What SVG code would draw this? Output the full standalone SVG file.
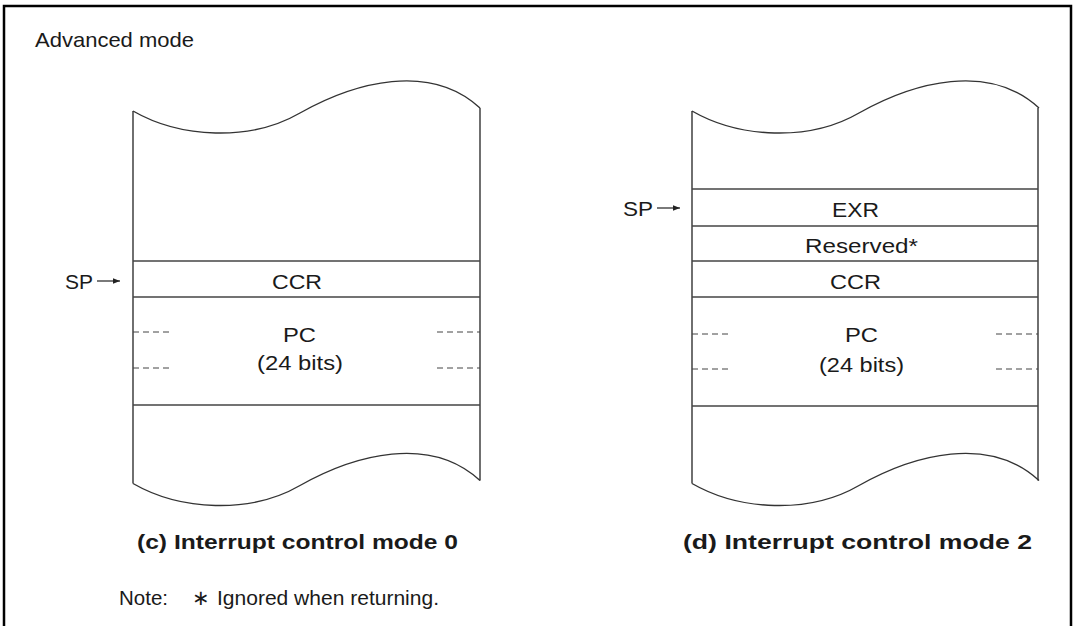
<svg xmlns="http://www.w3.org/2000/svg" width="1074" height="626" viewBox="0 0 1074 626">
<style>
text{font-family:"Liberation Sans",Arial,sans-serif;fill:#1a1a1a;font-size:21px}
.c{text-anchor:middle}
.b{font-weight:bold}
.w{fill:none;stroke:#333;stroke-width:1.4}
.h{stroke:#444;stroke-width:1.3}
.d{stroke:#444;stroke-width:1;stroke-dasharray:6 4}
.a{stroke:#222;stroke-width:1.2}
</style>
<defs>
<marker id="ah" viewBox="0 0 10 10" refX="10" refY="5" markerWidth="7" markerHeight="7" markerUnits="userSpaceOnUse" orient="auto"><path d="M0,1 L10,5 L0,9 z" fill="#222"/></marker>
<path id="wave" d="M133,111 C180,138 250,142 300,113 C355,82 430,62 480,108"/>
</defs>
<rect width="1074" height="626" fill="#fff"/>
<path d="M4,626 V6 H1071 V626" fill="none" stroke="#000" stroke-width="2.5"/>
<text x="35" y="47" textLength="159" lengthAdjust="spacingAndGlyphs">Advanced mode</text>

<g id="stack-c">
<use href="#wave" class="w"/>
<use href="#wave" class="w" transform="translate(0,372.5)"/>
<line class="w" x1="133" y1="111" x2="133" y2="483.5"/>
<line class="w" x1="480" y1="108" x2="480" y2="480.5"/>
<line class="h" x1="133" y1="261" x2="480" y2="261"/>
<line class="h" x1="133" y1="297" x2="480" y2="297"/>
<line class="h" x1="133" y1="405" x2="480" y2="405" stroke="#777" stroke-width="1.6"/>
<line class="d" x1="133" y1="332" x2="173" y2="332"/>
<line class="d" x1="133" y1="368" x2="173" y2="368"/>
<line class="d" x1="437" y1="332" x2="480" y2="332"/>
<line class="d" x1="437" y1="368" x2="480" y2="368"/>
<text x="272" y="289" textLength="50" lengthAdjust="spacingAndGlyphs">CCR</text>
<text x="283" y="341.5" textLength="33" lengthAdjust="spacingAndGlyphs">PC</text>
<text x="257" y="370" textLength="86" lengthAdjust="spacingAndGlyphs">(24 bits)</text>
</g>

<g id="stack-d" >
<g transform="translate(559,0)">
<use href="#wave" class="w"/>
<use href="#wave" class="w" transform="translate(0,372.5)"/>
<line class="w" x1="133" y1="111" x2="133" y2="483.5"/>
<line class="w" x1="479" y1="108" x2="479" y2="480.5"/>
<line class="h" x1="133" y1="189" x2="479" y2="189"/>
<line class="h" x1="133" y1="226" x2="479" y2="226"/>
<line class="h" x1="133" y1="261" x2="479" y2="261"/>
<line class="h" x1="133" y1="297" x2="479" y2="297"/>
<line class="h" x1="133" y1="406" x2="479" y2="406" stroke="#777" stroke-width="1.6"/>
<line class="d" x1="133" y1="334" x2="173" y2="334"/>
<line class="d" x1="133" y1="369" x2="173" y2="369"/>
<line class="d" x1="437" y1="334" x2="479" y2="334"/>
<line class="d" x1="437" y1="369" x2="479" y2="369"/>
</g>
<text x="832" y="216.5" textLength="47" lengthAdjust="spacingAndGlyphs">EXR</text>
<text x="805" y="252.5" textLength="113" lengthAdjust="spacingAndGlyphs">Reserved*</text>
<text x="830" y="289" textLength="51" lengthAdjust="spacingAndGlyphs">CCR</text>
<text x="845" y="342" textLength="33" lengthAdjust="spacingAndGlyphs">PC</text>
<text x="819" y="372" textLength="85" lengthAdjust="spacingAndGlyphs">(24 bits)</text>
</g>

<g id="sp-c">
<text x="65" y="289" textLength="28" lengthAdjust="spacingAndGlyphs">SP</text>
</g>
<g id="sp-d">
<text x="623" y="215.5" textLength="30" lengthAdjust="spacingAndGlyphs">SP</text>
</g>
<g id="connectors">
<line class="a" x1="97" y1="281" x2="120" y2="281" marker-end="url(#ah)"/>
<line class="a" x1="657" y1="208" x2="680" y2="208" marker-end="url(#ah)"/>
</g>

<text class="b" x="137" y="549" textLength="321" lengthAdjust="spacingAndGlyphs">(c)  Interrupt control mode 0</text>
<text class="b" x="683" y="549" textLength="349" lengthAdjust="spacingAndGlyphs">(d)  Interrupt control mode 2</text>

<g id="note">
<text x="119" y="605" textLength="49" lengthAdjust="spacingAndGlyphs">Note:</text>
<text x="192" y="605">∗</text>
<text x="217" y="605" textLength="222" lengthAdjust="spacingAndGlyphs">Ignored when returning.</text>
</g>
</svg>
